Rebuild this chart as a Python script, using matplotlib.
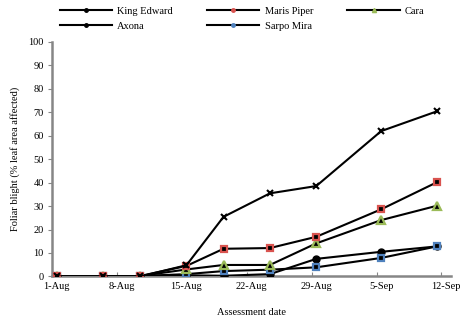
import matplotlib
matplotlib.use("Agg")
import matplotlib.pyplot as plt
import pandas as pd
from matplotlib.lines import Line2D

# Assessment dates and foliar blight (% leaf area affected) per variety.
dates = ["2013-08-01", "2013-08-06", "2013-08-10", "2013-08-15", "2013-08-19",
         "2013-08-24", "2013-08-29", "2013-09-05", "2013-09-11"]
king_edward = [0, 0, 0, 4.8, 25.4, 35.4, 38.5, 61.9, 70.3]
maris_piper = [0, 0, 0.2, 4.5, 11.8, 12.1, 16.9, 28.6, 40.1]
cara = [0, 0, 0.2, 3.0, 4.9, 4.9, 14.1, 24.0, 30.1]
axona = [0, 0, 0.2, 0.5, 0.3, 1.0, 7.5, 10.5, 12.8]
sarpo_mira = [0, 0, 0.2, 1.0, 2.3, 2.9, 3.9, 7.9, 12.8]

tick_dates = ["2013-08-01", "2013-08-08", "2013-08-15", "2013-08-22",
              "2013-08-29", "2013-09-05", "2013-09-12"]
tick_labels = ["1-Aug", "8-Aug", "15-Aug", "22-Aug", "29-Aug", "5-Sep", "12-Sep"]

plt.rcParams["font.family"] = ["Liberation Serif", "DejaVu Serif"]
FS = 7.5

start = pd.Timestamp(dates[0])
# Excel-style date axis: points sit in the middle of their day
x = [(pd.Timestamp(d) - start).days + 0.5 for d in dates]
ticks = [(pd.Timestamp(d) - start).days for d in tick_dates]

fig = plt.figure(figsize=(4.62, 3.2), dpi=100)
ax = fig.add_axes([0.1126, 0.136, 0.863, 0.734])

line_kw = dict(color="black", lw=1.5, zorder=3)
ax.plot(x, axona, marker="o", ms=5, mfc="black", mec="black", **line_kw)
ax.plot(x, sarpo_mira, marker="s", ms=5, mfc="black", mec="#4f81bd", mew=1.6, **line_kw)
ax.plot(x, cara, marker="^", ms=5.5, mfc="black", mec="#9bbb59", mew=1.6, **line_kw)
ax.plot(x, maris_piper, marker="s", ms=5, mfc="black", mec="#d9534f", mew=1.6, **line_kw)
ax.plot(x, king_edward, marker="x", ms=5, mew=1.5, mec="black", **line_kw)

ax.set_xlim(0, 43)
ax.set_ylim(0, 100)
ax.set_yticks(range(0, 101, 10))
ax.set_xticks(ticks)
ax.set_xticklabels([])
ax.set_xticks([t + 0.5 for t in ticks], minor=True)
ax.set_xticklabels(tick_labels, minor=True)
ax.tick_params(axis="x", which="minor", length=0, pad=4)
ax.tick_params(axis="x", which="major", length=3, direction="in", color="#868686")
ax.tick_params(axis="y", length=3, direction="out", color="#868686", pad=3)
ax.tick_params(which="both", labelsize=FS)

for side in ("top", "right"):
    ax.spines[side].set_visible(False)
for side in ("left", "bottom"):
    ax.spines[side].set_color("#868686")
    ax.spines[side].set_linewidth(1.8)

ax.set_ylabel("Foliar blight (% leaf area affected)", fontsize=FS, labelpad=6)
ax.set_xlabel("Assessment date", fontsize=FS, labelpad=12)

def handle(mfc, marker="o", ms=2.5):
    return Line2D([], [], color="black", lw=1.5, marker=marker, ms=ms, mfc=mfc, mec=mfc)

# legend filled column-wise, so order entries to read row by row
handles = [handle("black"), handle("black"), handle("#d9534f"),
           handle("#4f81bd"), handle("#9bbb59", "^", 3)]
labels = ["King Edward", "Axona", "Maris Piper", "Sarpo Mira", "Cara"]
fig.legend(handles, labels, ncol=3, loc="upper left", bbox_to_anchor=(0.115, 1.0),
           frameon=False, fontsize=FS, handlelength=5.0, handletextpad=0.5,
           columnspacing=3.3, labelspacing=0.55, borderaxespad=0.25)

fig.savefig("out.png", dpi=100)
